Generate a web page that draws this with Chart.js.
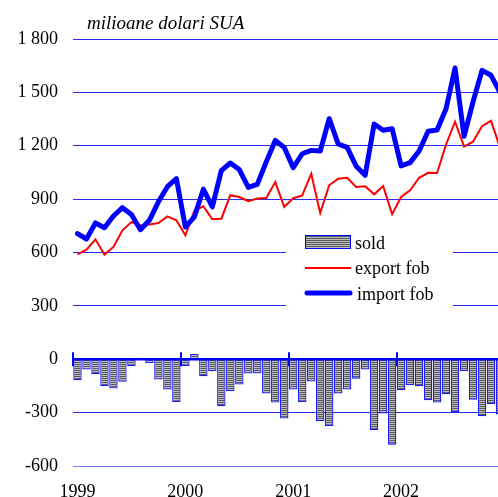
<!DOCTYPE html>
<html>
<head>
<meta charset="utf-8">
<script src="https://cdn.jsdelivr.net/npm/chart.js@4"></script>
<style>
  html, body { margin: 0; padding: 0; background: #fff; overflow: hidden; }
  #wrap { width: 498px; height: 497px; overflow: hidden; }
</style>
</head>
<body>
<div id="wrap"><canvas id="balanta" width="507" height="497"></canvas></div>
<script>
// Balanta comerciala lunara 1999-2002 (milioane dolari SUA)
const years = ["1999", "2000", "2001", "2002"];
const months = [];
years.forEach(y => { for (let m = 1; m <= 12; m++) months.push(y + "-" + m); });

const importFob = [
  706, 676, 766, 739, 805, 852, 814, 728, 781, 885, 970, 1015,
  743, 800, 956, 856, 1060, 1103, 1066, 966, 983, 1109, 1230, 1190,
  1077, 1155, 1174, 1170, 1352, 1210, 1191, 1085, 1034, 1322, 1287, 1296,
  1087, 1105, 1170, 1282, 1288, 1408, 1637, 1253, 1446, 1624, 1596, 1500
];
const exportFob = [
  590, 616, 674, 588, 631, 725, 771, 752, 758, 766, 803, 781,
  697, 835, 860, 787, 790, 922, 912, 888, 903, 906, 996, 856,
  905, 921, 1043, 822, 978, 1015, 1020, 968, 972, 927, 974, 815,
  912, 950, 1020, 1048, 1047, 1207, 1335, 1195, 1223, 1310, 1340, 1190
];
const sold = [
  -118, -58, -84, -152, -165, -127, -38, 8, -21, -114, -170, -240,
  -38, 30, -96, -67, -264, -180, -142, -80, -80, -193, -243, -333,
  -170, -240, -125, -348, -375, -193, -170, -109, -58, -399, -305, -480,
  -174, -146, -152, -230, -243, -197, -296, -66, -227, -320, -253, -310
];
const yTicks = [-600, -300, 0, 300, 600, 900, 1200, 1500, 1800];

const serif = '"Liberation Serif", "Times New Roman", serif';

// hasura orizontala pentru coloane
function stripes() {
  const c = document.createElement("canvas");
  c.width = 1; c.height = 2;
  const g = c.getContext("2d");
  g.fillStyle = "#bdbdbd"; g.fillRect(0, 0, 1, 2);
  g.fillStyle = "#585858"; g.fillRect(0, 0, 1, 1);
  return g.createPattern(c, "repeat");
}
const hatch = stripes();

function fmt(v) {
  return String(v).replace(/\B(?=(\d{3})+(?!\d))/g, " ");
}

const decor = {
  id: "decor",
  afterDatasetsDraw(chart) {
    const ctx = chart.ctx, x = chart.scales.x, y = chart.scales.y;
    const area = chart.chartArea;
    const y0 = y.getPixelForValue(0);
    const step = x.getPixelForValue(1) - x.getPixelForValue(0);
    ctx.save();
    ctx.strokeStyle = "#0000ff";
    ctx.lineWidth = 2.5;
    ctx.beginPath();
    ctx.moveTo(area.left, y0);
    ctx.lineTo(area.right, y0);
    ctx.stroke();
    // repere intre ani
    ctx.lineWidth = 2;
    for (let i = 0; i < months.length; i += 12) {
      const px = Math.round(x.getPixelForValue(i) - step / 2);
      ctx.beginPath();
      ctx.moveTo(px, y0 - 7);
      ctx.lineTo(px, y0 + 7);
      ctx.stroke();
    }
    ctx.restore();
  },
  afterDraw(chart) {
    const ctx = chart.ctx;
    const ds = chart.data.datasets;
    ctx.save();
    // titlu
    ctx.fillStyle = "#000";
    ctx.font = "italic 19px " + serif;
    ctx.textBaseline = "alphabetic";
    ctx.fillText("milioane dolari SUA", 87, 29);

    // legenda
    ctx.fillStyle = "#fff";
    ctx.fillRect(286, 228, 167, 84);
    ctx.font = "18px " + serif;

    ctx.fillStyle = hatch;
    ctx.fillRect(305, 235, 45, 13);
    ctx.strokeStyle = "#0000ff";
    ctx.lineWidth = 1;
    ctx.strokeRect(305.5, 235.5, 45, 13);
    ctx.fillStyle = "#000";
    ctx.fillText(ds[0].label, 355, 249);

    ctx.strokeStyle = ds[1].borderColor;
    ctx.lineWidth = ds[1].borderWidth;
    ctx.beginPath(); ctx.moveTo(305, 268); ctx.lineTo(351, 268); ctx.stroke();
    ctx.fillText(ds[1].label, 355, 274);

    ctx.strokeStyle = ds[2].borderColor;
    ctx.lineWidth = ds[2].borderWidth;
    ctx.lineCap = "round";
    ctx.beginPath(); ctx.moveTo(307, 293); ctx.lineTo(350, 293); ctx.stroke();
    ctx.fillText(ds[2].label, 357, 300);
    ctx.restore();
  }
};

new Chart(document.getElementById("balanta"), {
  type: "bar",
  data: {
    labels: months,
    datasets: [{
      type: "bar",
      label: "sold",
      data: sold,
      backgroundColor: hatch,
      borderColor: "#1a1aff",
      borderWidth: 1.3,
      categoryPercentage: 1,
      barPercentage: 0.94,
      order: 2
    }, {
      type: "line",
      label: "export fob",
      data: exportFob,
      borderColor: "#ff0000",
      borderWidth: 2,
      pointRadius: 0,
      tension: 0,
      order: 1
    }, {
      type: "line",
      label: "import fob",
      data: importFob,
      borderColor: "#0000ff",
      borderWidth: 5,
      borderJoinStyle: "round",
      borderCapStyle: "round",
      pointRadius: 0,
      tension: 0,
      order: 0
    }]
  },
  options: {
    responsive: false,
    animation: false,
    layout: { padding: { top: 39, left: 0, right: 0, bottom: 0 } },
    plugins: {
      legend: { display: false },
      tooltip: { enabled: false }
    },
    scales: {
      x: {
        offset: true,
        grid: { display: false },
        border: { display: false },
        ticks: {
          autoSkip: false,
          maxRotation: 0,
          padding: 7,
          color: "#000",
          font: { family: serif, size: 18 },
          callback: (v, i) => (i % 12 === 0 ? years[i / 12] : "")
        },
        afterFit: s => { s.height = 31; }
      },
      y: {
        min: yTicks[0],
        max: yTicks[yTicks.length - 1],
        afterBuildTicks: s => { s.ticks = yTicks.map(v => ({ value: v })); },
        border: { display: false },
        grid: {
          drawTicks: false,
          lineWidth: 1,
          color: c => {
            const v = c.tick.value;
            if (v === 0) return "rgba(0,0,0,0)";
            if (v === -600) return "#7a7aff";
            return "#2a2aee";
          }
        },
        ticks: {
          padding: 15,
          color: "#000",
          font: { family: serif, size: 18 },
          callback: v => fmt(v)
        },
        afterFit: s => { s.width = 73; }
      }
    }
  },
  plugins: [decor]
});
</script>
</body>
</html>
